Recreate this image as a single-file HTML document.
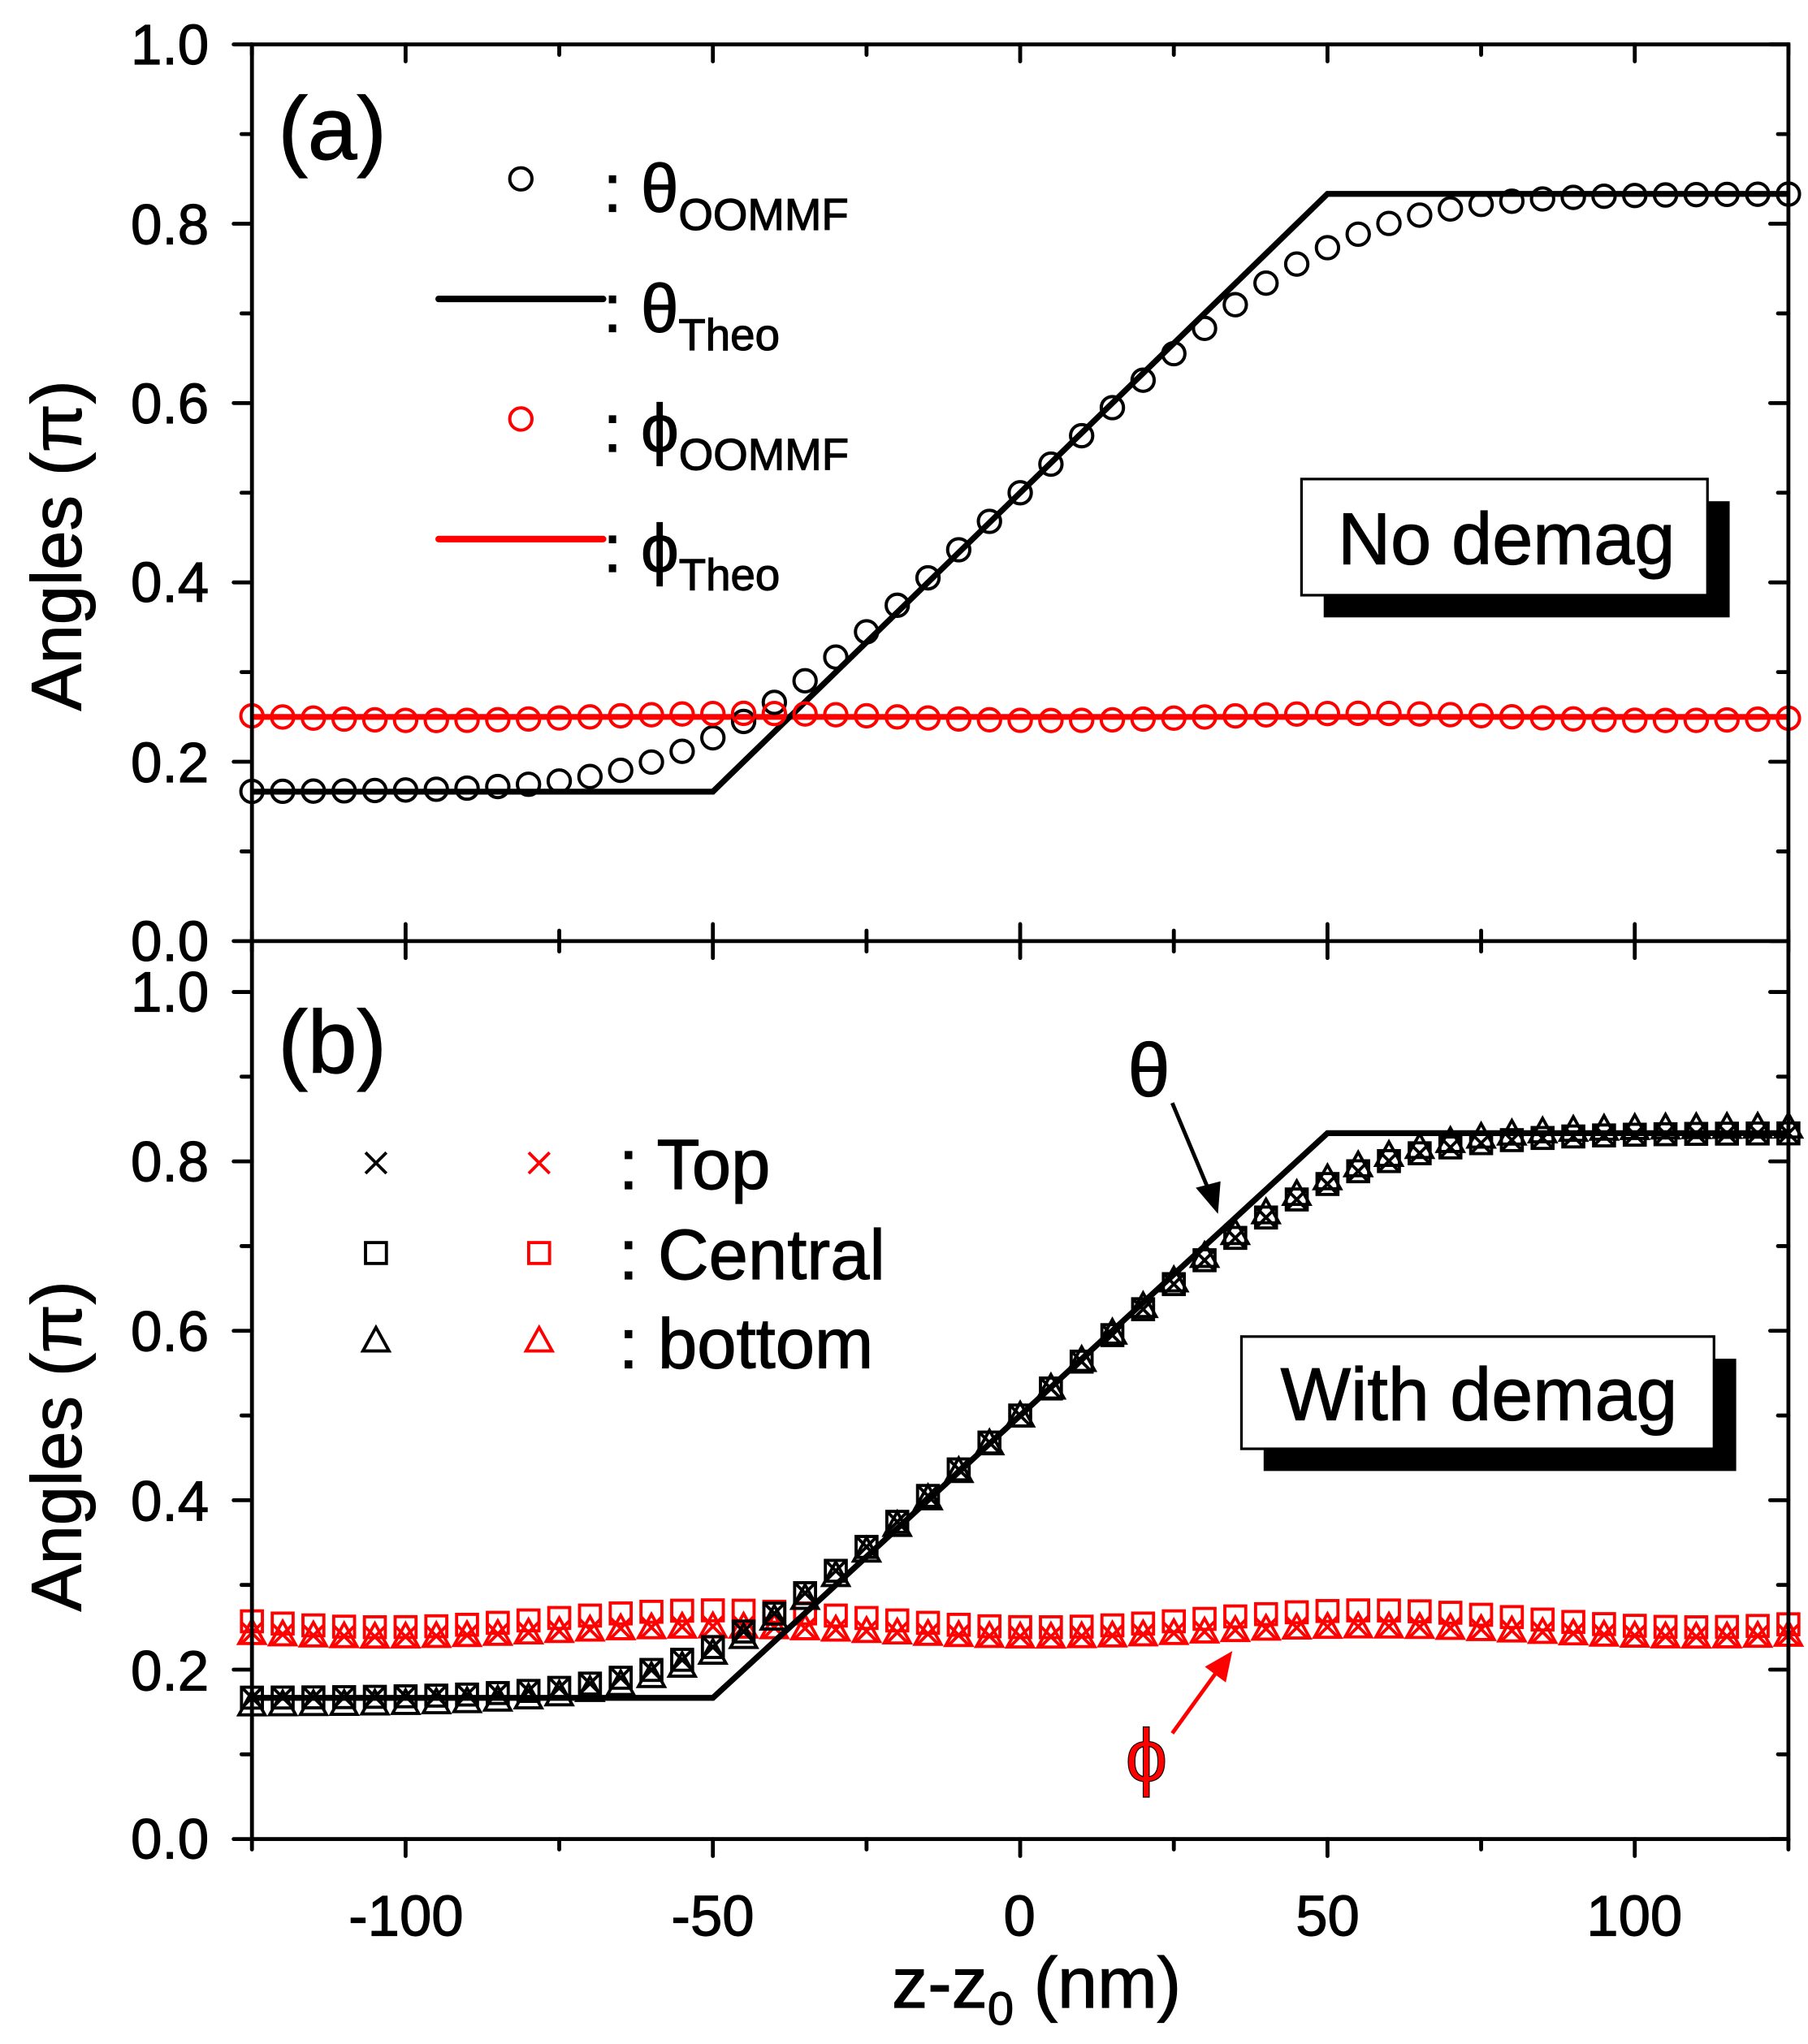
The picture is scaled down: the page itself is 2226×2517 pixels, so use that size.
<!DOCTYPE html>
<html><head><meta charset="utf-8"><style>
html,body{margin:0;padding:0;background:#fff}
svg{display:block}
text{font-family:"Liberation Sans",Arial,sans-serif;stroke:#000;stroke-width:0.7}
</style></head><body>
<svg id="s" width="2226" height="2517" viewBox="0 0 1385 1566" xmlns="http://www.w3.org/2000/svg">
<rect width="1385" height="1566" fill="#fff"/>
<g id="data"></g>
<g id="axes" stroke="#000" stroke-width="3" fill="none" stroke-linecap="round"></g>
<g font-size="43" text-anchor="end" fill="#000">
<text x="160" y="49">1.0</text><text x="160" y="187">0.8</text><text x="160" y="324">0.6</text><text x="160" y="461">0.4</text><text x="160" y="599">0.2</text><text x="160" y="736">0.0</text>
<text x="160" y="775">1.0</text><text x="160" y="905">0.8</text><text x="160" y="1035">0.6</text><text x="160" y="1165">0.4</text><text x="160" y="1295">0.2</text><text x="160" y="1424">0.0</text>
</g>
<g font-size="44" text-anchor="middle">
<text x="311" y="1483">-100</text><text x="546" y="1483">-50</text><text x="781" y="1483">0</text><text x="1017" y="1483">50</text><text x="1252" y="1483">100</text>
</g>
<text x="794" y="1538" font-size="55" text-anchor="middle">z-z<tspan font-size="36" dy="13">0</tspan><tspan dy="-13"> (nm)</tspan></text>
<text transform="translate(62,418) rotate(-90)" font-size="54" text-anchor="middle">Angles (π)</text>
<text transform="translate(62,1108) rotate(-90)" font-size="54" text-anchor="middle">Angles (π)</text>
<text x="213" y="122" font-size="68">(a)</text>
<text x="213" y="822" font-size="68">(b)</text>
<!-- legend a -->
<circle cx="399" cy="137" r="8.5" fill="none" stroke="#000" stroke-width="2.5"/>
<line x1="336" y1="229" x2="462" y2="229" stroke="#000" stroke-width="5" stroke-linecap="round"/>
<circle cx="399" cy="321" r="8.5" fill="none" stroke="#f00" stroke-width="2.5"/>
<line x1="336" y1="413" x2="462" y2="413" stroke="#f00" stroke-width="5" stroke-linecap="round"/>
<g font-size="52">
<text x="462" y="162">: θ<tspan font-size="34" dy="14">OOMMF</tspan></text>
<text x="462" y="254">: θ<tspan font-size="34" dy="14">Theo</tspan></text>
<text x="462" y="346">: ϕ<tspan font-size="34" dy="14">OOMMF</tspan></text>
<text x="462" y="438">: ϕ<tspan font-size="34" dy="14">Theo</tspan></text>
</g>
<!-- boxes -->
<rect x="1014" y="384" width="311" height="89" fill="#000"/>
<rect x="997" y="367" width="311" height="89" fill="#fff" stroke="#000" stroke-width="2"/>
<text x="1154" y="432" font-size="56" text-anchor="middle">No demag</text>
<rect x="968" y="1041" width="362" height="86" fill="#000"/>
<rect x="951" y="1024" width="362" height="86" fill="#fff" stroke="#000" stroke-width="2"/>
<text x="1133" y="1088" font-size="57" text-anchor="middle">With demag</text>
<!-- legend b -->
<g id="legb"></g>
<g font-size="54">
<text x="474" y="911">: Top</text>
<text x="474" y="980">: Central</text>
<text x="474" y="1048">: bottom</text>
</g>
<text x="864" y="840" font-size="58" font-family="Liberation Serif,serif">θ</text>
<line x1="898" y1="845" x2="926" y2="912" stroke="#000" stroke-width="3"/>
<polygon points="933,930 916,910 935,905" fill="#000"/>
<text x="862" y="1365" font-size="58" fill="#f00" stroke="#f00" font-family="Liberation Serif,serif">ϕ</text>
<line x1="898" y1="1328" x2="932" y2="1281" stroke="#f00" stroke-width="3"/>
<polygon points="944,1265 923,1277 939,1289" fill="#f00"/>
</svg>
<script>
var NS="http://www.w3.org/2000/svg";
function el(p,t,a){var e=document.createElementNS(NS,t);for(var k in a)e.setAttribute(k,a[k]);p.appendChild(e);return e;}
var X=function(x){return 193+(x+125)*4.708;};
var YA=function(v){return 721-v*687;};
var YB=function(v){return 1409-v*649;};
var ax=document.getElementById('axes'),d=document.getElementById('data');
el(ax,'rect',{x:193,y:34,width:1177,height:1375});
el(ax,'line',{x1:193,y1:721,x2:1370,y2:721});
for(var x=-125;x<=125;x+=25){var px=X(x),maj=(x%50==0);var L=maj?13:8;
 el(ax,'line',{x1:px,y1:34,x2:px,y2:34+L});
 el(ax,'line',{x1:px,y1:721-L,x2:px,y2:721+L});
 el(ax,'line',{x1:px,y1:1409,x2:px,y2:1409+L});}
for(var i=0;i<=10;i++){var v=i/10,maj=(i%2==0),L=maj?14:8;
 var y=YA(v);el(ax,'line',{x1:193-L,y1:y,x2:193,y2:y});el(ax,'line',{x1:1370-L,y1:y,x2:1370,y2:y});
 y=YB(v);el(ax,'line',{x1:193-L,y1:y,x2:193,y2:y});el(ax,'line',{x1:1370-L,y1:y,x2:1370,y2:y});}
function th(x){return x<-50?1/6:(x>50?5/6:0.5+x*(2/3)/100);}
function pl(Y,col){var p=[[-125,1/6],[-50,1/6],[50,5/6],[125,5/6]].map(function(q){return X(q[0])+','+Y(q[1]);}).join(' ');
 el(d,'polyline',{points:p,fill:'none',stroke:col,'stroke-width':4.5});}
function g(x,w){return w*Math.log(1+Math.exp(x/w));}
function sm(x,w){return 1/6+(2/3)*(g(x+50,w)-g(x-50,w))/100;}
// panel a
el(d,'line',{x1:193,y1:YA(0.25),x2:1370,y2:YA(0.25),stroke:'#f00','stroke-width':4.5});
pl(YA,'#000');
for(var x=-125;x<=125;x+=5){
 el(d,'circle',{cx:X(x),cy:YA(sm(x,13)),r:8.5,fill:'none',stroke:'#000','stroke-width':2.5});
 el(d,'circle',{cx:X(x),cy:YA(0.25+0.004*Math.cos((x+45)/16)),r:8.5,fill:'none',stroke:'#f00','stroke-width':2.5});}
function cross(gg,cx,cy,c){el(gg,'path',{d:'M'+(cx-8)+','+(cy-8)+'L'+(cx+8)+','+(cy+8)+'M'+(cx+8)+','+(cy-8)+'L'+(cx-8)+','+(cy+8),stroke:c,'stroke-width':2.4,fill:'none'});}
function sq(gg,cx,cy,c){el(gg,'rect',{x:cx-8,y:cy-8,width:16,height:16,stroke:c,'stroke-width':2.4,fill:'none'});}
function tri(gg,cx,cy,c){el(gg,'polygon',{points:cx+','+(cy-10)+' '+(cx+10)+','+(cy+8)+' '+(cx-10)+','+(cy+8),stroke:c,'stroke-width':2.4,fill:'none'});}
for(var x=-125;x<=125;x+=5){var px=X(x);
 var s=sm(x,13);
 sq(d,px,YB(0.26+0.01*Math.cos((x+50)/17)),'#f00');
 tri(d,px,YB(0.245+0.006*Math.cos((x+50)/17)),'#f00');
 cross(d,px,YB(0.245+0.006*Math.cos((x+50)/17)),'#f00');
 sq(d,px,YB(s),'#000');cross(d,px,YB(s),'#000');tri(d,px,YB(s+0.008*Math.tanh(x/40)),'#000');}
pl(YB,'#000');
var lb=document.getElementById('legb');
cross(lb,288,891,'#000');cross(lb,413,891,'#f00');
sq(lb,288,960,'#000');sq(lb,413,960,'#f00');
tri(lb,288,1027,'#000');tri(lb,413,1027,'#f00');
</script>
</body></html>
